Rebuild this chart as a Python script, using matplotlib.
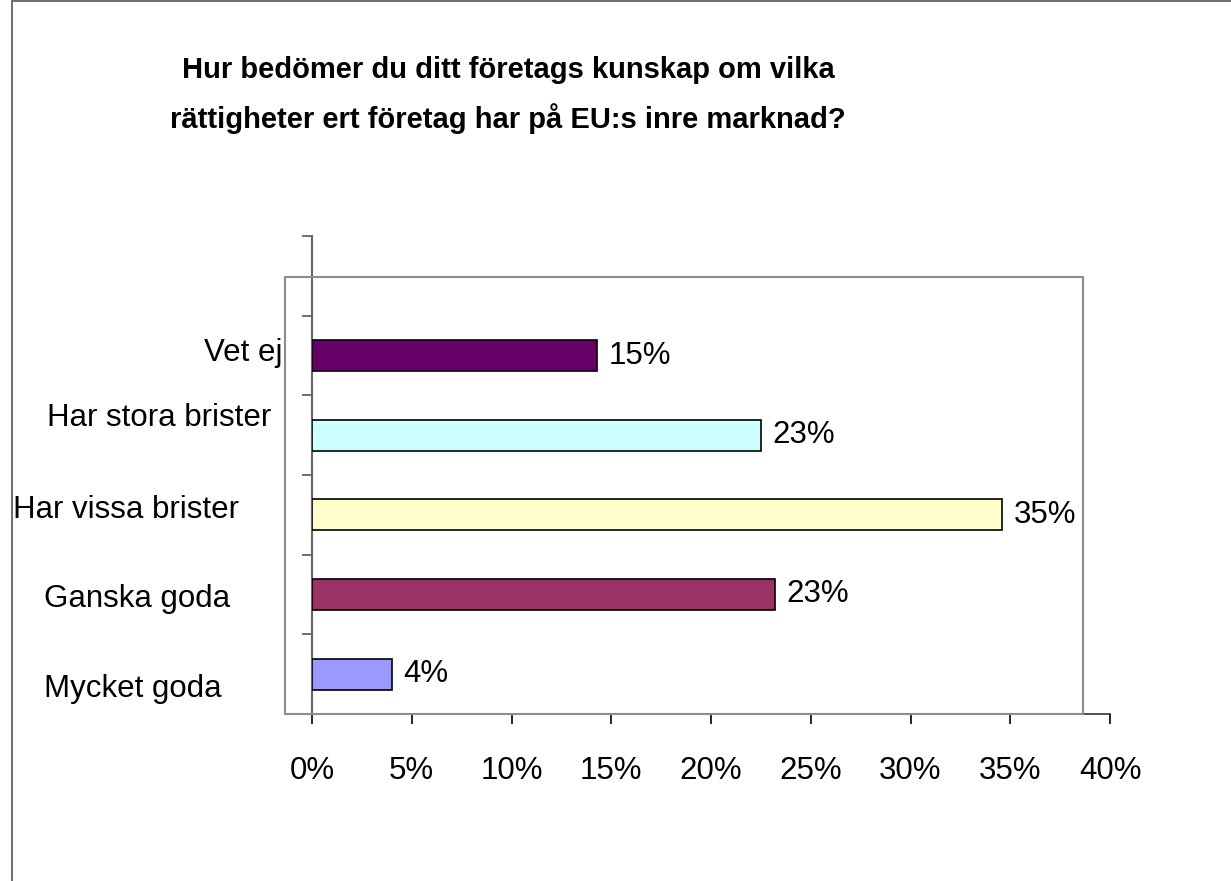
import matplotlib
matplotlib.use("Agg")
import matplotlib.pyplot as plt
from matplotlib.patches import Rectangle
from matplotlib.transforms import blended_transform_factory

plt.rcParams["font.family"] = ["Liberation Sans", "DejaVu Sans"]

# Data (bottom to top)
categories = ["Mycket goda", "Ganska goda", "Har vissa brister", "Har stora brister", "Vet ej"]
values = [4.0, 23.2, 34.6, 22.5, 14.3]
value_labels = ["4%", "23%", "35%", "23%", "15%"]
bar_colors = ["#9999FF", "#993366", "#FFFFCC", "#CCFFFF", "#660066"]
xticks = [0, 5, 10, 15, 20, 25, 30, 35, 40]
title = "Hur bedömer du ditt företags kunskap om vilka\nrättigheter ert företag har på EU:s inre marknad?"

W, H = 1231, 881
fig = plt.figure(figsize=(W/100, H/100), dpi=100)

# pixel helpers for layout
def fx(px): return px / W
def fy(py): return 1 - py / H

# outer chart border
fig.patches.append(Rectangle((fx(12), fy(1300)), 1.5, fy(1) - fy(1300), transform=fig.transFigure,
                             fill=False, edgecolor="#555555", lw=1.2, zorder=0))
# plot area frame
fig.patches.append(Rectangle((fx(285), fy(714)), fx(1083) - fx(285), fy(277) - fy(714),
                             transform=fig.transFigure, fill=False, edgecolor="#8c8c8c", lw=1.5, zorder=1))

ax = fig.add_axes([fx(312), fy(714), fx(1110) - fx(312), fy(236) - fy(714)])
ax.patch.set_alpha(0)
ypos = list(range(len(categories)))
ax.barh(ypos, values, height=0.39, color=bar_colors, edgecolor="black", linewidth=1.2, zorder=3)
for y, v, lab in zip(ypos, values, value_labels):
    ax.annotate(lab, (v, y), xytext=(8, 0), textcoords="offset points",
                va="center", ha="left", fontsize=22.5)

ax.set_xlim(0, 40)
ax.set_ylim(-0.5, len(categories) + 0.5)
ax.set_xticks(xticks)
ax.set_xticklabels([f"{t}%" for t in xticks], fontsize=22.5)
ax.set_yticks([i - 0.5 for i in range(len(categories) + 2)])
ax.set_yticklabels([])
ax.tick_params(axis="x", direction="out", length=7, width=1.2, pad=23, colors="black")
ax.tick_params(axis="y", direction="out", length=7, width=1.2, color="#555555")
for s in ["top", "right"]:
    ax.spines[s].set_visible(False)
ax.spines["left"].set_color("#666666")
ax.spines["left"].set_linewidth(1.5)
ax.spines["bottom"].set_color("#333333")
ax.spines["bottom"].set_linewidth(1.2)

# category labels (placed like the original Excel layout)
label_layout = [(44, "left", -0.19), (44, "left", -0.06), (13, "left", 0.06),
                (271, "right", 0.21), (283, "right", 0.03)]
trans = blended_transform_factory(fig.transFigure, ax.transData)
for y, cat, (px, ha, dy) in zip(ypos, categories, label_layout):
    ax.text(fx(px), y + dy, cat, transform=trans, ha=ha, va="center", fontsize=22.5)

fig.text(fx(508), fy(95), title, ha="center", va="center", fontsize=21, fontweight="bold",
         linespacing=1.8)

fig.savefig("out.png", dpi=100)
